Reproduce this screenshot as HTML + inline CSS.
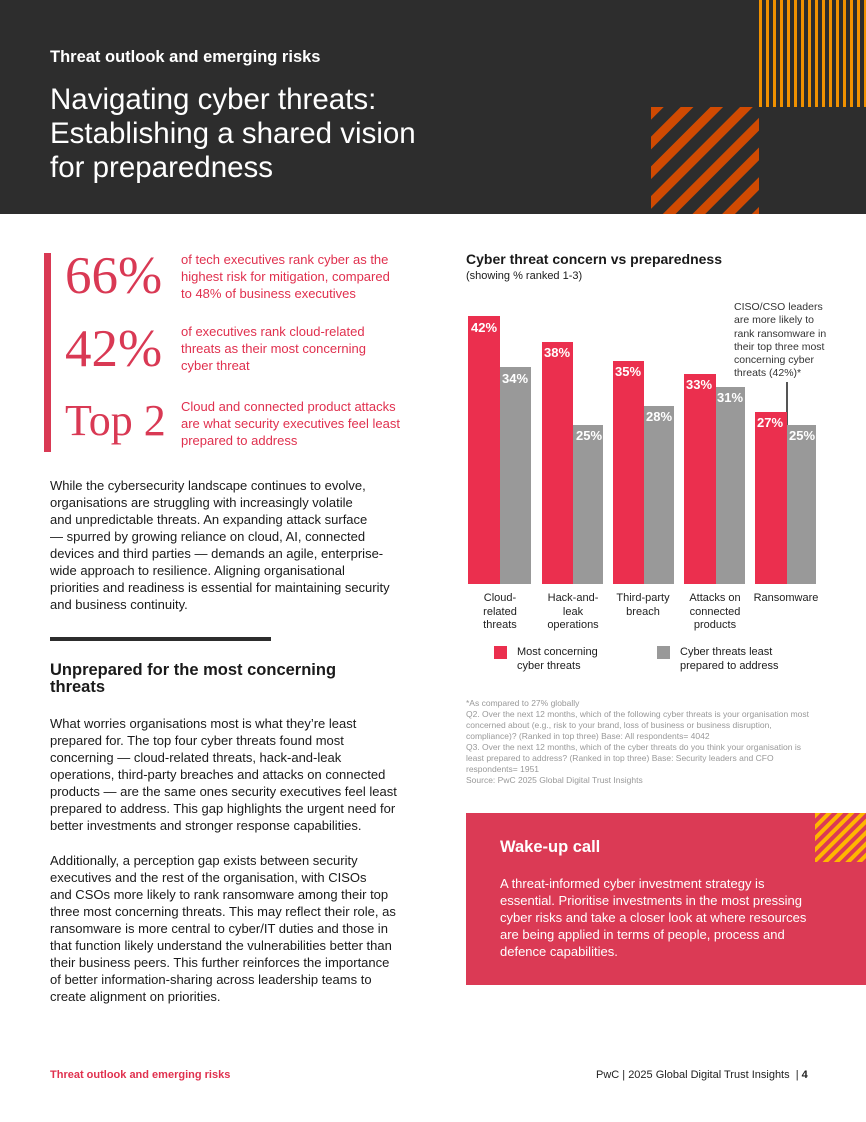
<!DOCTYPE html>
<html><head><meta charset="utf-8"><style>
*{margin:0;padding:0;box-sizing:border-box}
body{width:866px;height:1122px;position:relative;background:#fff;font-family:"Liberation Sans",Arial,sans-serif;color:#1a1a1a;overflow:hidden}
.a{position:absolute}
.hdr{left:0;top:0;width:866px;height:214px;background:#2d2d2d}
.p{font-size:13px;line-height:17px;color:#1a1a1a}
.big{font-family:"Liberation Serif",serif;color:#d93954;font-size:53px;line-height:50px}
.st{font-size:13px;line-height:17px;color:#e0304e}
.r{background:#eb2f4e}.g{background:#999}
.lab{position:absolute;color:#fff;font-weight:bold;font-size:13px}
.xl{position:absolute;top:592px;font-size:11px;line-height:13.5px;text-align:center;color:#222}
</style></head><body>
<div class="a hdr"></div>
<svg class="a" style="left:759px;top:0" width="107" height="107">
<defs><pattern id="v" width="7" height="107" patternUnits="userSpaceOnUse"><rect x="0" width="3" height="107" fill="#f09100"/></pattern></defs>
<rect width="107" height="107" fill="url(#v)"/></svg>
<svg class="a" style="left:651px;top:107px" width="108" height="107">
<defs><pattern id="d" width="21" height="21" patternUnits="userSpaceOnUse" patternTransform="rotate(45)"><rect width="9" height="21" fill="#d04a02"/></pattern></defs>
<rect width="108" height="107" fill="url(#d)"/></svg>
<div class="a" style="left:50px;top:48px;color:#fff;font-weight:bold;font-size:16.5px">Threat outlook and emerging risks</div>
<div class="a" style="left:50px;top:83px;color:#fff;font-size:29.5px;line-height:34px">Navigating cyber threats:<br>Establishing a shared vision<br>for preparedness</div>

<div class="a" style="left:44px;top:253px;width:7px;height:199px;background:#d93954"></div>
<div class="a big" style="left:65px;top:251px">66%</div>
<div class="a st" style="left:181px;top:251px">of tech executives rank cyber as the<br>highest risk for mitigation, compared<br>to 48% of business executives</div>
<div class="a big" style="left:65px;top:324px">42%</div>
<div class="a st" style="left:181px;top:323px">of executives rank cloud-related<br>threats as their most concerning<br>cyber threat</div>
<div class="a big" style="left:65px;top:396px;font-size:44px">Top 2</div>
<div class="a st" style="left:181px;top:398px">Cloud and connected product attacks<br>are what security executives feel least<br>prepared to address</div>

<div class="a p" style="left:50px;top:477px">While the cybersecurity landscape continues to evolve,<br>organisations are struggling with increasingly volatile<br>and unpredictable threats. An expanding attack surface<br>— spurred by growing reliance on cloud, AI, connected<br>devices and third parties — demands an agile, enterprise-<br>wide approach to resilience. Aligning organisational<br>priorities and readiness is essential for maintaining security<br>and business continuity.</div>
<div class="a" style="left:50px;top:637px;width:221px;height:4px;background:#2d2d2d"></div>
<div class="a" style="left:50px;top:662px;font-weight:bold;font-size:16.5px;line-height:17px">Unprepared for the most concerning<br>threats</div>
<div class="a p" style="left:50px;top:715px">What worries organisations most is what they’re least<br>prepared for. The top four cyber threats found most<br>concerning — cloud-related threats, hack-and-leak<br>operations, third-party breaches and attacks on connected<br>products — are the same ones security executives feel least<br>prepared to address. This gap highlights the urgent need for<br>better investments and stronger response capabilities.</div>
<div class="a p" style="left:50px;top:852px">Additionally, a perception gap exists between security<br>executives and the rest of the organisation, with CISOs<br>and CSOs more likely to rank ransomware among their top<br>three most concerning threats. This may reflect their role, as<br>ransomware is more central to cyber/IT duties and those in<br>that function likely understand the vulnerabilities better than<br>their business peers. This further reinforces the importance<br>of better information-sharing across leadership teams to<br>create alignment on priorities.</div>

<div class="a" style="left:466px;top:251px;font-weight:bold;font-size:14px">Cyber threat concern vs preparedness</div>
<div class="a" style="left:466px;top:270px;font-size:11px">(showing % ranked 1-3)</div>
<div class="a" style="left:734px;top:301px;font-size:10.5px;line-height:13.3px;color:#333">CISO/CSO leaders<br>are more likely to<br>rank ransomware in<br>their top three most<br>concerning cyber<br>threats (42%)*</div>
<div class="a" style="left:786px;top:382px;width:2px;height:44px;background:#555"></div>
<div class="a r" style="left:468px;top:316px;width:32px;height:268px"></div>
<div class="a g" style="left:500px;top:367px;width:31px;height:217px"></div>
<div class="a r" style="left:542px;top:342px;width:31px;height:242px"></div>
<div class="a g" style="left:573px;top:425px;width:30px;height:159px"></div>
<div class="a r" style="left:613px;top:361px;width:31px;height:223px"></div>
<div class="a g" style="left:644px;top:406px;width:30px;height:178px"></div>
<div class="a r" style="left:684px;top:374px;width:32px;height:210px"></div>
<div class="a g" style="left:716px;top:387px;width:29px;height:197px"></div>
<div class="a r" style="left:755px;top:412px;width:32px;height:172px"></div>
<div class="a g" style="left:787px;top:425px;width:29px;height:159px"></div>
<div class="lab" style="left:471px;top:320px">42%</div>
<div class="lab" style="left:502px;top:371px">34%</div>
<div class="lab" style="left:544px;top:345px">38%</div>
<div class="lab" style="left:576px;top:428px">25%</div>
<div class="lab" style="left:615px;top:364px">35%</div>
<div class="lab" style="left:646px;top:409px">28%</div>
<div class="lab" style="left:686px;top:377px">33%</div>
<div class="lab" style="left:717px;top:390px">31%</div>
<div class="lab" style="left:757px;top:415px">27%</div>
<div class="lab" style="left:789px;top:428px">25%</div>
<div class="xl" style="left:470px;width:60px">Cloud-<br>related<br>threats</div>
<div class="xl" style="left:538px;width:70px">Hack-and-<br>leak<br>operations</div>
<div class="xl" style="left:610px;width:66px">Third-party<br>breach</div>
<div class="xl" style="left:680px;width:70px">Attacks on<br>connected<br>products</div>
<div class="xl" style="left:750px;width:72px">Ransomware</div>
<div class="a r" style="left:494px;top:646px;width:13px;height:13px"></div>
<div class="a" style="left:517px;top:645px;font-size:11px;line-height:14px">Most concerning<br>cyber threats</div>
<div class="a g" style="left:657px;top:646px;width:13px;height:13px"></div>
<div class="a" style="left:680px;top:645px;font-size:11px;line-height:14px">Cyber threats least<br>prepared to address</div>
<div class="a" style="left:466px;top:698px;font-size:8.5px;line-height:11px;color:#999">*As compared to 27% globally<br>Q2. Over the next 12 months, which of the following cyber threats is your organisation most<br>concerned about (e.g., risk to your brand, loss of business or business disruption,<br>compliance)? (Ranked in top three) Base: All respondents= 4042<br>Q3. Over the next 12 months, which of the cyber threats do you think your organisation is<br>least prepared to address? (Ranked in top three) Base: Security leaders and CFO<br>respondents= 1951<br>Source: PwC 2025 Global Digital Trust Insights</div>

<div class="a" style="left:466px;top:813px;width:400px;height:172px;background:#db3a55"></div>
<svg class="a" style="left:815px;top:813px" width="51" height="49">
<defs><pattern id="y" width="8" height="8" patternUnits="userSpaceOnUse" patternTransform="rotate(45)"><rect width="4" height="8" fill="#ffb600"/></pattern></defs>
<rect width="51" height="49" fill="url(#y)"/></svg>
<div class="a" style="left:500px;top:838px;color:#fff;font-weight:bold;font-size:16.5px">Wake-up call</div>
<div class="a" style="left:500px;top:875px;color:#fff;font-size:13px;line-height:17px">A threat-informed cyber investment strategy is<br>essential. Prioritise investments in the most pressing<br>cyber risks and take a closer look at where resources<br>are being applied in terms of people, process and<br>defence capabilities.</div>

<div class="a" style="left:50px;top:1069px;color:#e0304e;font-weight:bold;font-size:11px">Threat outlook and emerging risks</div>
<div class="a" style="left:596px;top:1069px;font-size:11px;color:#222">PwC | 2025 Global Digital Trust Insights &nbsp;| <b>4</b></div>
</body></html>
